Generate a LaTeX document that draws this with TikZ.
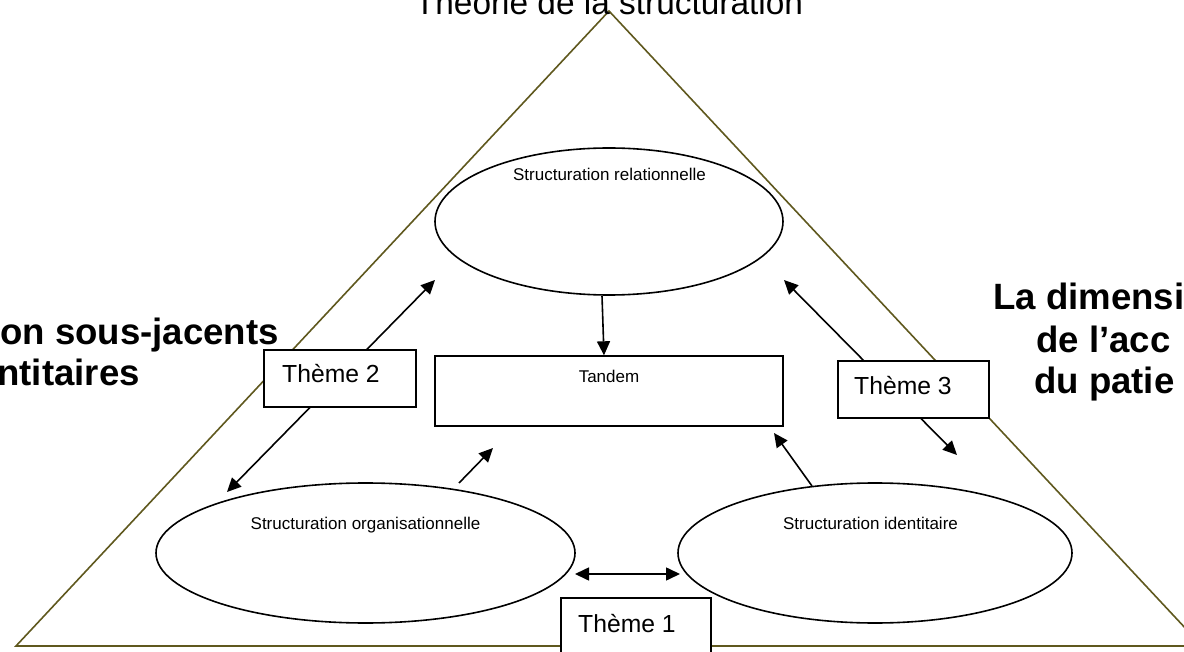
\documentclass[tikz,border=0pt]{standalone}
\usepackage{fontspec}
\setmainfont{Liberation Sans}
\usetikzlibrary{shapes.geometric,arrows.meta,calc}
\definecolor{trioline}{RGB}{95,88,30}
\begin{document}
\begin{tikzpicture}[x=1pt,y=-1pt,
  tri/.style={draw=trioline,line width=1.6pt},
  ell/.style={ellipse,draw=black,fill=white,line width=1.6pt,inner sep=0pt},
  boxn/.style={rectangle,draw=black,fill=white,line width=1.4pt,inner sep=0pt},
  arr/.style={line width=1.6pt,-{Triangle[length=14pt,width=13pt]}},
  darr/.style={line width=1.6pt,{Triangle[length=14pt,width=13pt]}-{Triangle[length=14pt,width=13pt]}},
  small/.style={font=\fontsize{17}{20}\selectfont},
  theme/.style={font=\fontsize{24.7}{29}\selectfont,anchor=base west,inner sep=0pt},
  side/.style={font=\fontsize{36.6}{42}\selectfont\bfseries,inner sep=0pt}
]
\useasboundingbox (0,0) rectangle (1184,652);
\clip (0,0) rectangle (1184,652);
% triangle
\coordinate (apex) at (609,11);
\coordinate (bl) at (16,646);
\coordinate (br) at (1202,646);
\draw[tri] (apex) -- (bl) -- (br) -- cycle;
% title and side texts
\node[anchor=base,inner sep=0pt,font=\fontsize{33.4}{40}\selectfont] (title) at (609,15) {Théorie de la structuration};
\node[side,anchor=base east] (l1) at (279,345) {on sous-jacents};
\node[side,anchor=base east] (l2) at (140,385) {ntitaires};
\node[side,anchor=base west] (r1) at (993,310) {La dimensi};
\node[side,anchor=base west] (r2) at (1036,353) {de l’acc};
\node[side,anchor=base west] (r3) at (1034,393) {du patie};
% free arrow ends
\coordinate (a2s) at (227,492);
\coordinate (a2e) at (435,280);
\coordinate (a3s) at (784,280);
\coordinate (a3e) at (957,455);
\coordinate (a4s) at (459,483);
\coordinate (a4e) at (493,448);
\coordinate (a5s) at (812,486);
\coordinate (a5e) at (774,433);
\coordinate (a6s) at (575,574);
\coordinate (a6e) at (680,574);
% arrows
\draw[darr] (a2s) -- (a2e);
\draw[darr] (a3s) -- (a3e);
\draw[arr] (a4s) -- (a4e);
\draw[arr] (a5s) -- (a5e);
\draw[darr] (a6s) -- (a6e);
% ellipses
\node[ell,minimum width=348,minimum height=147] (rel) at (609,221.5) {};
\node[ell,minimum width=419,minimum height=140] (org) at (365.5,553) {};
\node[ell,minimum width=394,minimum height=140] (ident) at (875,553) {};
\node[small,anchor=base,inner sep=0pt] (relt) at (609.5,181) {Structuration relationnelle};
\node[small,anchor=base,inner sep=0pt] (orgt) at (365.5,529) {Structuration organisationnelle};
\node[small,anchor=base,inner sep=0pt] (identt) at (870.5,529) {Structuration identitaire};
% tandem
\node[boxn,minimum width=348,minimum height=70] (tandem) at (609,391) {};
\node[small,anchor=base,inner sep=0pt] (tandemt) at (609,383) {Tandem};
\draw[arr] ($(rel.south)+(-7,0)$) -- ($(tandem.north)+(-5,0)$);
% theme boxes
\node[boxn,minimum width=152,minimum height=57] (t2) at (340,378.5) {};
\node[theme] (t2t) at (282,383) {Thème 2};
\node[boxn,minimum width=151,minimum height=57] (t3) at (913.5,389.5) {};
\node[theme] (t3t) at (854,395) {Thème 3};
\node[boxn,minimum width=150,minimum height=62] (t1) at (636,629) {};
\node[theme] (t1t) at (578,632) {Thème 1};
\end{tikzpicture}
\end{document}
